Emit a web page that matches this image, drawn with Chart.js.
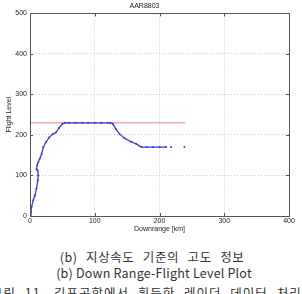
<!DOCTYPE html>
<html>
<head>
<meta charset="utf-8">
<script src="https://cdn.jsdelivr.net/npm/chart.js@4"></script>
<style>
html,body{margin:0;padding:0;background:#fff;width:302px;height:294px;overflow:hidden;}
#wrap{position:absolute;left:0;top:0;width:302px;height:240px;}
.cap{position:absolute;left:0;width:302px;text-align:center;white-space:nowrap;font-family:"Noto Sans CJK KR","Noto Sans",sans-serif;color:#333;font-size:12.5px;line-height:16px;}
</style>
</head>
<body>
<div id="wrap"><canvas id="c" width="302" height="240"></canvas></div>
<div class="cap" style="top:249px;left:1px;word-spacing:5px;letter-spacing:0.6px;">(b) 지상속도 기준의 고도 정보</div>
<div class="cap" style="top:265px;left:3px;letter-spacing:0.2px;">(b) Down Range-Flight Level Plot</div>
<div class="cap" style="top:285px;left:-9px;width:auto;text-align:left;word-spacing:5px;letter-spacing:1px;">그림 11. 김포공항에서 획득한 레이더 데이터 처리결과</div>
<script>
const chartTitle = "AAR8803";
const xTitle = "Downrange [km]";
const yTitle = "Flight Level";
const xTicks = [0, 100, 200, 300, 400];
const yTicks = [0, 100, 200, 300, 400, 500];

const trackX = [0, 1.5, 2.5, 5, 7.7, 10, 12, 12.8, 11.8, 10, 11, 12.8, 15, 18, 20.5, 24.6, 29.7, 35, 40, 45, 50, 54, 60, 70, 80, 90, 100, 110, 120, 124, 128, 133, 138.5, 146, 156.4, 164, 172, 180, 190, 200, 210];
const trackY = [0, 10, 23, 39, 51, 68, 88, 100, 112, 116, 125, 133, 141, 153, 170, 182, 194, 202, 206, 218, 227, 230, 230, 230, 230, 230, 230, 230, 230, 230, 227, 214, 202, 192, 183, 178, 170, 170, 170, 170, 170];
const strayX = [218, 238.5];
const strayY = [170, 170];
const refX = [0, 240];
const refY = [230, 230];

const toPts = (xs, ys) => xs.map((x, i) => ({x: x, y: ys[i]}));

const boxPlugin = {
  id: 'box',
  afterDraw(chart) {
    const a = chart.chartArea, ctx = chart.ctx;
    ctx.save();
    ctx.strokeStyle = '#555';
    ctx.lineWidth = 1;
    ctx.strokeRect(Math.round(a.left) + 0.5, Math.round(a.top) + 0.5, Math.round(a.right - a.left), Math.round(a.bottom - a.top));
    const xs = chart.scales.x, ys = chart.scales.y;
    ctx.beginPath();
    xTicks.forEach(t => {
      const px = Math.round(xs.getPixelForValue(t)) + 0.5;
      ctx.moveTo(px, a.bottom); ctx.lineTo(px, a.bottom - 3);
      ctx.moveTo(px, a.top); ctx.lineTo(px, a.top + 3);
    });
    yTicks.forEach(t => {
      const py = Math.round(ys.getPixelForValue(t)) + 0.5;
      ctx.moveTo(a.left, py); ctx.lineTo(a.left + 3, py);
      ctx.moveTo(a.right, py); ctx.lineTo(a.right - 3, py);
    });
    ctx.stroke();
    ctx.restore();
  }
};

const tickFont = {family: "Liberation Sans", size: 7};

new Chart(document.getElementById('c'), {
  type: 'scatter',
  data: {
    datasets: [
      {data: toPts(refX, refY), showLine: true, borderColor: '#e88080', borderWidth: 1, pointRadius: 0, order: 2},
      {data: toPts(trackX, trackY), showLine: true, borderColor: '#3a3ae0', backgroundColor: '#3a3ae0', borderWidth: 1.3, pointRadius: 1, pointBorderWidth: 0, order: 1},
      {data: toPts(strayX, strayY), showLine: false, backgroundColor: '#3a3ae0', pointRadius: 1, pointBorderWidth: 0, order: 1}
    ]
  },
  options: {
    responsive: false,
    animation: false,
    devicePixelRatio: 1,
    layout: {padding: {left: 0, right: 13, top: 0, bottom: 0}},
    plugins: {
      legend: {display: false},
      tooltip: {enabled: false},
      title: {display: true, text: chartTitle, color: '#222', font: {family: "Liberation Sans", size: 7, weight: 'normal'}, padding: {top: 2, bottom: 3}}
    },
    scales: {
      x: {
        type: 'linear', min: 0, max: 400,
        afterBuildTicks: s => { s.ticks = xTicks.map(v => ({value: v})); },
        afterFit: s => { s.height = 24; },
        ticks: {color: '#222', font: tickFont, padding: 1, maxRotation: 0},
        grid: {color: '#c8c8c8', drawTicks: false, lineWidth: 1},
        border: {display: false, dash: [1, 2]},
        title: {display: true, text: xTitle, color: '#222', font: tickFont, padding: {top: 0, bottom: 7}}
      },
      y: {
        type: 'linear', min: 0, max: 500,
        afterBuildTicks: s => { s.ticks = yTicks.map(v => ({value: v})); },
        afterFit: s => { s.width = 30; },
        ticks: {color: '#222', font: tickFont, padding: 3},
        grid: {color: '#c8c8c8', drawTicks: false, lineWidth: 1},
        border: {display: false, dash: [1, 2]},
        title: {display: true, text: yTitle, color: '#222', font: tickFont, padding: {top: 5, bottom: 0}}
      }
    }
  },
  plugins: [boxPlugin]
});
</script>
</body>
</html>
